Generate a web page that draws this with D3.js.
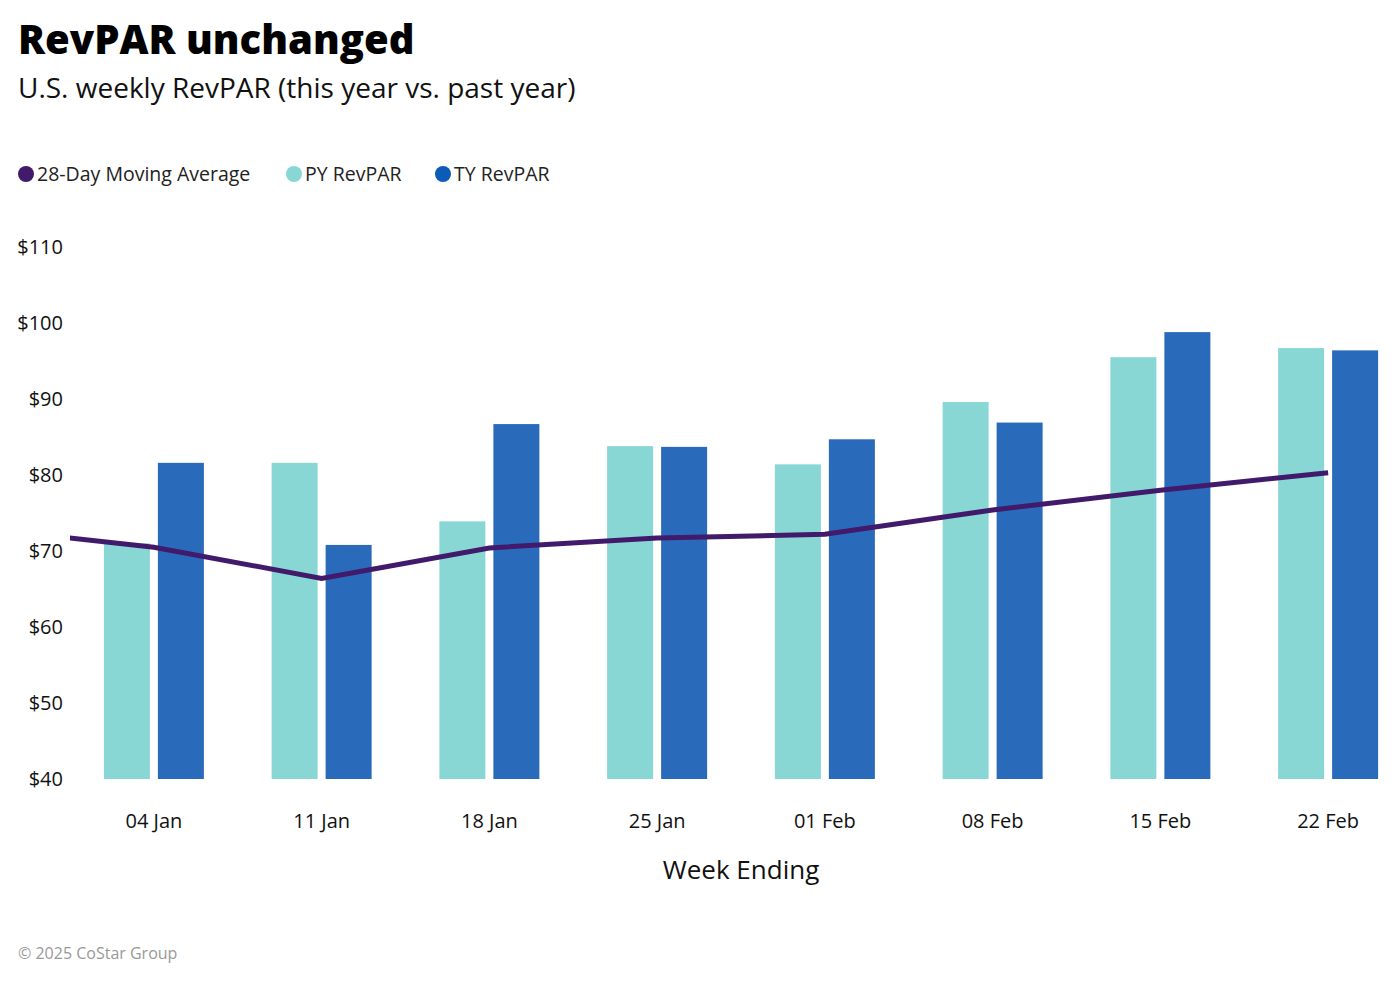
<!DOCTYPE html>
<html>
<head>
<meta charset="utf-8">
<script src="https://cdn.jsdelivr.net/npm/d3@7"></script>
<style>
  body { margin: 0; background: #fff; }
  text { font-family: "Open Sans", Lato, sans-serif; }
</style>
</head>
<body>
<div id="frame"></div>
<script>
'use strict'

var weeks = ["04 Jan", "11 Jan", "18 Jan", "25 Jan", "01 Feb", "08 Feb", "15 Feb", "22 Feb"]
var pyRevpar = [71.0, 81.6, 73.9, 83.8, 81.4, 89.6, 95.5, 96.7]
var tyRevpar = [81.6, 70.8, 86.7, 83.7, 84.7, 86.9, 98.8, 96.4]
// moving average; first value is the week before 04 Jan (clipped at the plot edge)
var prevWeekAvg = 72.9
var movingAvg = [70.5, 66.4, 70.4, 71.7, 72.2, 75.4, 78.0, 80.3]
var yTicks = [40, 50, 60, 70, 80, 90, 100, 110]

var colors = { py: "#88d7d4", ty: "#2a6abb", avg: "#421a6b" }

var W = 1396, H = 982
var margin = { left: 70, right: W - 1412, top: 247, bottom: H - 779 }

var svg = d3.select("#frame").append("svg")
  .attr("width", W)
  .attr("height", H)

svg.append("text")
  .attr("x", 18).attr("y", 54)
  .style("font-size", "40px").style("font-weight", "800")
  .attr("fill", "#000")
  .text("RevPAR unchanged")

svg.append("text")
  .attr("x", 18).attr("y", 98)
  .style("font-size", "28px")
  .attr("fill", "#111")
  .text("U.S. weekly RevPAR (this year vs. past year)")

var x = d3.scaleBand()
  .domain(weeks)
  .range([margin.left, W - margin.right])

var y = d3.scaleLinear()
  .domain([40, 110])
  .range([779, 247])

// legend
var legendItems = [
  { label: "28-Day Moving Average", color: colors.avg, x: 26 },
  { label: "PY RevPAR", color: colors.py, x: 294 },
  { label: "TY RevPAR", color: "#0a5cb8", x: 443 }
]
var lg = svg.append("g").selectAll("g")
  .data(legendItems)
  .enter().append("g")
  .attr("transform", d => "translate(" + d.x + ",174)")
lg.append("circle").attr("r", 8).attr("fill", d => d.color)
lg.append("text")
  .attr("x", 11).attr("dy", "0.35em")
  .style("font-size", "19.5px").attr("fill", "#222")
  .text(d => d.label)

// y axis labels
svg.append("g").selectAll("text")
  .data(yTicks)
  .enter().append("text")
  .attr("x", 63)
  .attr("y", d => y(d))
  .attr("dy", "0.35em")
  .attr("text-anchor", "end")
  .style("font-size", "20px").attr("fill", "#111")
  .text(d => "$" + d)

// x axis labels
svg.append("g").selectAll("text")
  .data(weeks)
  .enter().append("text")
  .attr("x", d => x(d) + x.bandwidth() / 2)
  .attr("y", 828)
  .attr("text-anchor", "middle")
  .style("font-size", "20px").attr("fill", "#111")
  .text(d => d)

svg.append("text")
  .attr("x", 741).attr("y", 879)
  .attr("text-anchor", "middle")
  .style("font-size", "26px").attr("fill", "#111")
  .text("Week Ending")

// bars
var barW = 46, gap = 8
var groups = svg.append("g").selectAll("g")
  .data(weeks)
  .enter().append("g")
  .attr("transform", d => "translate(" + (x(d) + x.bandwidth() / 2) + ",0)")

groups.append("rect")
  .attr("x", -barW - gap / 2)
  .attr("width", barW)
  .attr("y", (d, i) => y(pyRevpar[i]))
  .attr("height", (d, i) => y(40) - y(pyRevpar[i]))
  .attr("fill", colors.py)

groups.append("rect")
  .attr("x", gap / 2)
  .attr("width", barW)
  .attr("y", (d, i) => y(tyRevpar[i]))
  .attr("height", (d, i) => y(40) - y(tyRevpar[i]))
  .attr("fill", colors.ty)

// moving average line
svg.append("defs").append("clipPath").attr("id", "plotclip")
  .append("rect")
  .attr("x", margin.left).attr("y", 0)
  .attr("width", W - margin.left).attr("height", H)

var linePts = [{ cx: x(weeks[0]) + x.bandwidth() / 2 - x.step(), v: prevWeekAvg }]
  .concat(weeks.map((w, i) => ({ cx: x(w) + x.bandwidth() / 2, v: movingAvg[i] })))

svg.append("path")
  .datum(linePts)
  .attr("clip-path", "url(#plotclip)")
  .attr("fill", "none")
  .attr("stroke", colors.avg)
  .attr("stroke-width", 5)
  .attr("d", d3.line().x(d => d.cx).y(d => y(d.v)))

svg.append("text")
  .attr("x", 18).attr("y", 959)
  .style("font-size", "16px").attr("fill", "#999")
  .text("© 2025 CoStar Group")
</script>
</body>
</html>
